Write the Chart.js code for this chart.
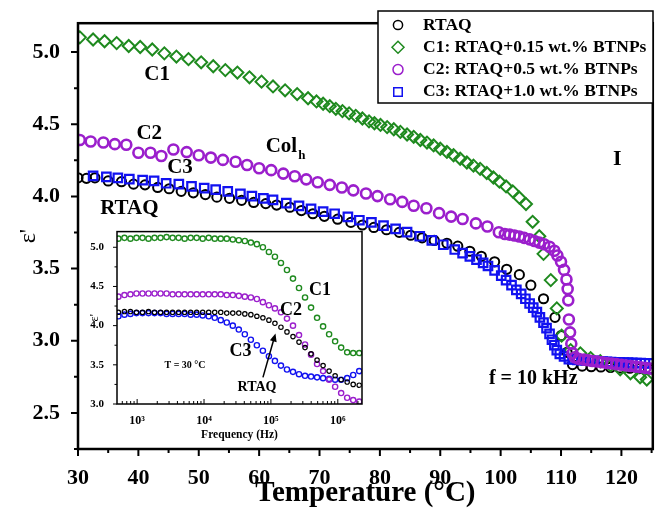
<!DOCTYPE html>
<html><head><meta charset="utf-8">
<script src="https://cdn.jsdelivr.net/npm/chart.js@4.4.1/dist/chart.umd.min.js"></script>
<style>
html,body{margin:0;padding:0;background:#fff;}
#wrap{position:relative;width:661px;height:513px;overflow:hidden;}
#main{position:absolute;left:0;top:0;}
#inset{position:absolute;left:80px;top:220px;}
</style></head><body>
<div id="wrap">
<canvas id="main" width="661" height="513"></canvas>
<canvas id="inset" width="290" height="230"></canvas>
</div>
<script>
// ---------- main chart data (Temperature in °C, permittivity ε') ----------
const rtaqT = [30.0,31.4,32.8,35.0,37.2,39.2,41.1,43.2,45.1,47.1,49.1,51.1,53.0,55.1,57.1,59.1,61.1,62.9,65.1,67.0,68.9,70.8,73.0,75.2,77.1,79.0,81.1,83.2,85.1,87.0,89.0,91.1,92.9,94.9,96.8,99.0,101.0,103.1,105.0,107.1,109.0,110.0,111.0,111.9,113.5,115.0,116.6,118.2,119.8,121.4,123.0,124.6];
const rtaqE = [4.129,4.125,4.129,4.107,4.102,4.085,4.080,4.062,4.053,4.035,4.025,4.013,3.995,3.987,3.973,3.958,3.950,3.940,3.925,3.902,3.880,3.862,3.842,3.820,3.802,3.785,3.769,3.751,3.731,3.713,3.695,3.675,3.655,3.620,3.585,3.547,3.495,3.458,3.385,3.291,3.162,3.035,2.920,2.835,2.824,2.820,2.818,2.815,2.812,2.810,2.807,2.805];

const c1T = [30.3,32.5,34.4,36.4,38.4,40.3,42.3,44.3,46.3,48.3,50.4,52.4,54.4,56.4,58.4,60.4,62.3,64.3,66.3,68.1,69.5,70.6,71.7,72.7,73.8,74.9,76.0,77.1,78.2,79.1,80.1,81.2,82.3,83.4,84.5,85.6,86.7,87.8,88.9,90.0,91.1,92.2,93.3,94.4,95.5,96.6,97.7,98.8,99.8,100.9,102.0,103.1,104.2,105.3,106.4,107.1,108.3,109.3,110.1,111.6,113.2,114.9,116.5,118.2,119.8,121.5,123.1,124.2];
const c1E = [5.102,5.087,5.075,5.062,5.042,5.035,5.018,4.991,4.969,4.951,4.929,4.902,4.875,4.858,4.825,4.795,4.762,4.735,4.709,4.680,4.658,4.642,4.625,4.607,4.591,4.575,4.558,4.540,4.520,4.507,4.495,4.480,4.465,4.447,4.429,4.413,4.391,4.373,4.353,4.330,4.308,4.285,4.261,4.235,4.213,4.191,4.162,4.131,4.102,4.069,4.035,3.991,3.947,3.824,3.724,3.602,3.420,3.224,3.035,2.935,2.913,2.880,2.858,2.829,2.802,2.775,2.747,2.731];

const c2T = [30.3,32.1,34.2,36.1,38.0,40.0,42.0,43.8,45.8,48.0,50.0,52.0,54.0,56.1,58.0,60.0,62.0,64.0,65.9,67.8,69.7,71.7,73.7,75.6,77.7,79.6,81.7,83.7,85.6,87.7,89.8,91.8,93.7,95.9,97.8,99.7,100.7,101.5,102.3,103.1,103.9,104.8,105.6,106.4,107.2,108.1,108.9,109.4,110.0,110.5,110.9,111.1,111.2,111.3,111.5,111.7,111.9,112.3,112.9,113.8,114.5,115.2,116.0,116.8,117.6,118.4,119.2,120.0,120.8,121.6,122.4,123.2,124.0,124.8];
const c2E = [4.391,4.380,4.373,4.362,4.358,4.302,4.302,4.280,4.325,4.307,4.285,4.269,4.253,4.240,4.218,4.195,4.182,4.158,4.140,4.118,4.098,4.080,4.062,4.042,4.020,4.002,3.980,3.962,3.935,3.918,3.884,3.860,3.843,3.813,3.791,3.752,3.740,3.735,3.729,3.722,3.713,3.702,3.691,3.680,3.669,3.651,3.624,3.591,3.547,3.491,3.424,3.358,3.280,3.147,3.058,2.980,2.913,2.885,2.875,2.869,2.865,2.860,2.856,2.851,2.846,2.842,2.838,2.834,2.829,2.825,2.821,2.816,2.812,2.808];

const c3T = [32.5,34.7,36.6,38.5,40.7,42.6,44.6,46.7,48.8,50.9,52.8,54.8,56.9,58.8,60.7,62.3,64.5,66.6,68.6,70.6,72.5,74.7,76.6,78.6,80.6,82.6,84.5,86.6,88.6,90.5,92.4,93.7,94.9,96.0,97.1,97.9,99.0,100.1,100.9,101.8,102.6,103.4,104.1,104.8,105.4,106.0,106.5,107.1,107.6,108.1,108.5,108.9,109.3,109.8,110.5,111.3,112.0,112.7,113.4,114.1,114.8,115.5,116.2,116.9,117.6,118.3,119.0,119.7,120.4,121.1,121.8,122.5,123.2,123.9,124.6];
const c3E = [4.142,4.135,4.129,4.120,4.113,4.107,4.091,4.085,4.069,4.058,4.047,4.035,4.018,4.002,3.987,3.976,3.953,3.935,3.913,3.895,3.880,3.858,3.835,3.820,3.798,3.775,3.753,3.724,3.695,3.665,3.632,3.607,3.585,3.562,3.540,3.518,3.487,3.451,3.420,3.385,3.353,3.325,3.291,3.258,3.229,3.198,3.162,3.125,3.087,3.047,3.007,2.969,2.935,2.909,2.891,2.873,2.870,2.868,2.866,2.864,2.862,2.860,2.858,2.856,2.854,2.852,2.851,2.850,2.849,2.848,2.847,2.846,2.845,2.844,2.843];

const seriesLabels = ['RTAQ','C1: RTAQ+0.15 wt.% BTNPs','C2: RTAQ+0.5 wt.% BTNPs','C3: RTAQ+1.0 wt.% BTNPs'];

// ---------- inset data (T = 30 °C, frequency in Hz) ----------
const insetFreq = [525,646,794,977,1202,1479,1820,2239,2754,3388,4169,5129,6310,7762,9550,11749,14454,17783,21878,26915,33113,40738,50119,61660,75858,93325,114815,141254,173780,213796,263027,323594,398107,489779,602560,741310,912011,1122018,1380384,1698244,2089296];
const insetRTAQ = [4.17,4.18,4.18,4.17,4.17,4.18,4.17,4.17,4.17,4.17,4.17,4.17,4.17,4.17,4.17,4.17,4.17,4.17,4.16,4.16,4.16,4.15,4.14,4.12,4.10,4.07,4.03,3.98,3.92,3.86,3.79,3.72,3.64,3.56,3.49,3.42,3.36,3.31,3.28,3.25,3.24];
const insetC1 = [5.11,5.12,5.11,5.12,5.12,5.11,5.12,5.12,5.13,5.12,5.12,5.11,5.12,5.12,5.11,5.12,5.11,5.11,5.11,5.10,5.09,5.08,5.06,5.04,5.00,4.94,4.88,4.80,4.71,4.60,4.48,4.36,4.23,4.10,3.99,3.89,3.80,3.72,3.66,3.65,3.65];
const insetC2 = [4.37,4.39,4.40,4.41,4.41,4.41,4.41,4.41,4.41,4.40,4.40,4.40,4.40,4.40,4.40,4.40,4.40,4.40,4.39,4.39,4.38,4.37,4.36,4.34,4.30,4.26,4.22,4.17,4.09,4.00,3.88,3.76,3.63,3.51,3.42,3.31,3.22,3.14,3.08,3.05,3.03];
const insetC3 = [4.12,4.14,4.15,4.16,4.16,4.16,4.16,4.16,4.15,4.15,4.15,4.15,4.14,4.14,4.13,4.12,4.10,4.07,4.04,4.00,3.95,3.89,3.82,3.75,3.68,3.61,3.55,3.49,3.44,3.41,3.38,3.36,3.35,3.34,3.33,3.32,3.31,3.31,3.33,3.37,3.42];

const insetMajorTicks = [1000,10000,100000,1000000];
const insetTickLabels = ['10\u00B3','10\u2074','10\u2075','10\u2076'];
const insetMinorTicks = [600,700,800,900,2000,3000,4000,5000,6000,7000,8000,9000,20000,30000,40000,50000,60000,70000,80000,90000,200000,300000,400000,500000,600000,700000,800000,900000,2000000];

// ---------- styles ----------
const SERIF = "'Liberation Serif','Times New Roman',Times,serif";
const BLACK = '#000000', GREEN = '#1f8a1f', PURPLE = '#9b1fcc', BLUE = '#1212f0';
const NONE = 'rgba(0,0,0,0)';
const pts = (xs, ys) => xs.map((x, i) => ({x, y: ys[i]}));

const mainStyles = [
  {color: BLACK, pointStyle: 'circle', r: 4.6, bw: 2.0, order: 3},
  {color: GREEN, pointStyle: 'rectRot', r: 6.0, bw: 2.0, order: 2},
  {color: PURPLE, pointStyle: 'circle', r: 5.0, bw: 2.6, order: 0},
  {color: BLUE, pointStyle: 'rect', r: 6.0, bw: 2.2, order: 1}
];
const mainSeries = [pts(rtaqT, rtaqE), pts(c1T, c1E), pts(c2T, c2E), pts(c3T, c3E)];

const isMult = (v, m) => Math.abs(v / m - Math.round(v / m)) < 1e-6;

function drawText(ctx, txt, x, y, size, weight, align) {
  ctx.font = (weight || 'bold') + ' ' + size + 'px ' + SERIF;
  ctx.fillStyle = '#000';
  ctx.textAlign = align || 'center';
  ctx.textBaseline = 'middle';
  ctx.fillText(txt, x, y);
}

const mainDecor = {
  id: 'mainDecor',
  afterDatasetsDraw(chart) {
    const ctx = chart.ctx, a = chart.chartArea;
    const xs = chart.scales.x, ys = chart.scales.y;
    ctx.save();
    ctx.strokeStyle = '#000';
    ctx.lineWidth = 2.5;
    ctx.strokeRect(a.left, a.top, a.right - a.left, a.bottom - a.top);
    ctx.lineWidth = 2;
    ctx.beginPath();
    xs.ticks.forEach(t => {
      const px = xs.getPixelForValue(t.value);
      const len = isMult(t.value, 10) ? 7 : 4;
      ctx.moveTo(px, a.bottom); ctx.lineTo(px, a.bottom + len);
    });
    ys.ticks.forEach(t => {
      const py = ys.getPixelForValue(t.value);
      const len = isMult(t.value, 0.5) ? 7 : 4;
      ctx.moveTo(a.left, py); ctx.lineTo(a.left - len, py);
    });
    ctx.stroke();
    const P = (T, e) => [xs.getPixelForValue(T), ys.getPixelForValue(e)];
    let p;
    p = P(43.1, 4.847); drawText(ctx, 'C1', p[0], p[1], 21);
    p = P(41.8, 4.433); drawText(ctx, 'C2', p[0], p[1], 21);
    p = P(46.9, 4.200); drawText(ctx, 'C3', p[0], p[1], 21);
    p = P(38.5, 3.913); drawText(ctx, 'RTAQ', p[0], p[1], 21);
    p = P(66.3, 4.347); drawText(ctx, 'Col', p[0], p[1], 21, 'bold', 'right');
    drawText(ctx, 'h', p[0] + 1, p[1] + 9, 13, 'bold', 'left');
    p = P(119.3, 4.26); drawText(ctx, 'I', p[0], p[1], 22);
    p = P(105.4, 2.733); drawText(ctx, 'f = 10 kHz', p[0], p[1], 20);
    // legend
    const lx = 378, ly = 11, lw = 275, lh = 92;
    ctx.fillStyle = '#fff';
    ctx.fillRect(lx, ly, lw, lh);
    ctx.strokeStyle = '#000';
    ctx.lineWidth = 1.5;
    ctx.strokeRect(lx, ly, lw, lh);
    chart.data.datasets.forEach((ds, i) => {
      const yy = ly + 14 + i * 22.3;
      ctx.strokeStyle = ds.borderColor;
      ctx.fillStyle = NONE;
      Chart.helpers.drawPoint(ctx, {pointStyle: ds.pointStyle, radius: ds.pointRadius, borderWidth: ds.borderWidth, rotation: 0}, lx + 20, yy);
      drawText(ctx, ds.label, lx + 45, yy, 17.5, 'bold', 'left');
    });
    ctx.restore();
  }
};

new Chart(document.getElementById('main'), {
  type: 'scatter',
  data: {
    datasets: mainSeries.map((d, i) => ({
      label: seriesLabels[i],
      data: d,
      showLine: false,
      pointStyle: mainStyles[i].pointStyle,
      pointRadius: mainStyles[i].r,
      pointHoverRadius: mainStyles[i].r,
      borderWidth: mainStyles[i].bw,
      borderColor: mainStyles[i].color,
      backgroundColor: NONE,
      order: mainStyles[i].order
    }))
  },
  options: {
    responsive: false, animation: false, events: [],
    layout: {padding: {top: 6, right: 4, left: 0, bottom: 0}},
    plugins: {legend: {display: false}, tooltip: {enabled: false}},
    scales: {
      x: {
        type: 'linear', min: 30, max: 125.2,
        grid: {display: false}, border: {display: false},
        ticks: {stepSize: 5, includeBounds: false, autoSkip: false, maxRotation: 0, padding: 8, color: '#000',
          font: {family: SERIF, size: 22, weight: 'bold'},
          callback: v => isMult(v, 10) ? String(Math.round(v)) : ''},
        title: {display: true, text: 'Temperature (\u00B0C)', color: '#000',
          font: {family: SERIF, size: 29, weight: 'bold'}, padding: {top: 0, bottom: 2}},
        afterFit: s => { s.height = 64; }
      },
      y: {
        type: 'linear', min: 2.25, max: 5.2,
        grid: {display: false}, border: {display: false},
        ticks: {stepSize: 0.25, includeBounds: false, autoSkip: false, padding: 10, color: '#000',
          font: {family: SERIF, size: 22, weight: 'bold'},
          callback: v => isMult(v, 0.5) ? v.toFixed(1) : ''},
        title: {display: true, text: "\u03B5'", color: '#000',
          font: {family: SERIF, size: 24, weight: 'normal'}, padding: {top: 14, bottom: 0}},
        afterFit: s => { s.width = 78; }
      }
    }
  },
  plugins: [mainDecor]
});

// ---------- inset ----------
const insetStyles = [
  {color: BLACK, r: 2.2, bw: 1.2, order: 1},
  {color: GREEN, r: 2.6, bw: 1.4, order: 0},
  {color: PURPLE, r: 2.6, bw: 1.4, order: 2},
  {color: BLUE, r: 2.6, bw: 1.4, order: 3}
];
const insetSeries = [insetRTAQ, insetC1, insetC2, insetC3];

const insetDecor = {
  id: 'insetDecor',
  afterDatasetsDraw(chart) {
    const ctx = chart.ctx, a = chart.chartArea;
    const xs = chart.scales.x, ys = chart.scales.y;
    ctx.save();
    ctx.strokeStyle = '#000';
    ctx.lineWidth = 1.5;
    ctx.strokeRect(a.left, a.top, a.right - a.left, a.bottom - a.top);
    ctx.lineWidth = 1;
    ctx.beginPath();
    xs.ticks.forEach(t => {
      const px = xs.getPixelForValue(t.value);
      const len = insetMajorTicks.includes(t.value) ? 5 : 3;
      ctx.moveTo(px, a.bottom); ctx.lineTo(px, a.bottom - len);
    });
    ys.ticks.forEach(t => {
      const py = ys.getPixelForValue(t.value);
      const len = isMult(t.value, 0.5) ? 4 : 2.5;
      ctx.moveTo(a.left, py); ctx.lineTo(a.left - len, py);
    });
    ctx.stroke();
    const P = (f, e) => [xs.getPixelForValue(f), ys.getPixelForValue(e)];
    let p;
    p = P(5.4e5, 4.45); drawText(ctx, 'C1', p[0], p[1], 18);
    p = P(2.0e5, 4.20); drawText(ctx, 'C2', p[0], p[1], 18);
    p = P(3.5e4, 3.675); drawText(ctx, 'C3', p[0], p[1], 18);
    p = P(6.2e4, 3.21); drawText(ctx, 'RTAQ', p[0], p[1], 14);
    p = P(5.2e3, 3.49); drawText(ctx, 'T = 30 \u00B0C', p[0], p[1], 10);
    const t0 = P(7.6e4, 3.34), t1 = P(1.17e5, 3.90);
    const ang = Math.atan2(t1[1] - t0[1], t1[0] - t0[0]);
    ctx.strokeStyle = '#000'; ctx.fillStyle = '#000'; ctx.lineWidth = 1.5;
    ctx.beginPath(); ctx.moveTo(t0[0], t0[1]);
    ctx.lineTo(t1[0] - 6 * Math.cos(ang), t1[1] - 6 * Math.sin(ang)); ctx.stroke();
    ctx.beginPath();
    ctx.moveTo(t1[0], t1[1]);
    ctx.lineTo(t1[0] - 8 * Math.cos(ang) + 3.5 * Math.sin(ang), t1[1] - 8 * Math.sin(ang) - 3.5 * Math.cos(ang));
    ctx.lineTo(t1[0] - 8 * Math.cos(ang) - 3.5 * Math.sin(ang), t1[1] - 8 * Math.sin(ang) + 3.5 * Math.cos(ang));
    ctx.closePath(); ctx.fill();
    ctx.restore();
  }
};

new Chart(document.getElementById('inset'), {
  type: 'scatter',
  data: {
    datasets: insetSeries.map((d, i) => ({
      label: seriesLabels[i],
      data: pts(insetFreq, d),
      showLine: false,
      pointStyle: 'circle',
      pointRadius: insetStyles[i].r,
      pointHoverRadius: insetStyles[i].r,
      borderWidth: insetStyles[i].bw,
      borderColor: insetStyles[i].color,
      backgroundColor: NONE,
      order: insetStyles[i].order
    }))
  },
  options: {
    responsive: false, animation: false, events: [],
    layout: {padding: {top: 8, right: 8, left: 0, bottom: 0}},
    plugins: {legend: {display: false}, tooltip: {enabled: false}},
    scales: {
      x: {
        type: 'logarithmic', min: 500, max: 2.3e6,
        grid: {display: false}, border: {display: false},
        afterBuildTicks: s => {
          s.ticks = insetMinorTicks.concat(insetMajorTicks).sort((p, q) => p - q).map(v => ({value: v}));
        },
        ticks: {autoSkip: false, maxRotation: 0, padding: 2, color: '#000',
          font: {family: SERIF, size: 12, weight: 'bold'},
          callback: v => { const k = insetMajorTicks.indexOf(v); return k >= 0 ? insetTickLabels[k] : ''; }},
        title: {display: true, text: 'Frequency (Hz)', color: '#000',
          font: {family: SERIF, size: 11.5, weight: 'bold'}, padding: {top: 0, bottom: 8}},
        afterFit: s => { s.height = 46; }
      },
      y: {
        type: 'linear', min: 3.0, max: 5.2,
        grid: {display: false}, border: {display: false},
        ticks: {stepSize: 0.25, includeBounds: false, autoSkip: false, padding: 5, color: '#000',
          font: {family: SERIF, size: 11, weight: 'bold'},
          callback: v => isMult(v, 0.5) ? v.toFixed(1) : ''},
        title: {display: true, text: "\u03B5'", color: '#000',
          font: {family: SERIF, size: 12, weight: 'normal'}, padding: {top: 8, bottom: 0}},
        afterFit: s => { s.width = 37; }
      }
    }
  },
  plugins: [insetDecor]
});
</script>
</body></html>
